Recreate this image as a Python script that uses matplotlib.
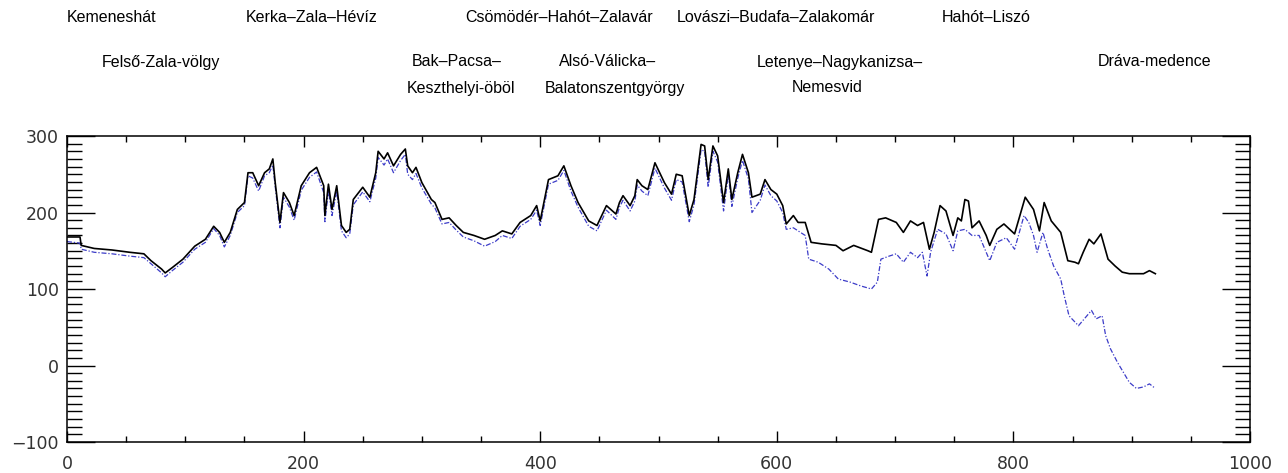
import matplotlib
matplotlib.use("Agg")
import matplotlib.pyplot as plt
from matplotlib.ticker import MultipleLocator

# Profile distance (x) and elevation-like values for the two series
black_x = [0, 11, 12, 23, 38, 53, 65, 71, 80, 83, 89, 98, 108, 117, 124, 129, 133, 138,
           144, 150, 153, 157, 162, 167, 171, 174, 176, 180, 183, 188, 192, 198, 205, 211,
           217, 218, 221, 224, 228, 232, 236, 239, 242, 250, 256, 261, 263, 268, 271, 276,
           282, 286, 288, 292, 295, 300, 308, 311, 317, 323, 329, 335, 344, 353, 362, 368,
           376, 383, 392, 397, 400, 407, 415, 420, 426, 432, 441, 448, 456, 464, 467,
           470, 476, 480, 482, 486, 491, 497, 505, 511, 515, 520, 526, 530, 536, 539, 542,
           546, 550, 555, 559, 562, 567, 571, 576, 579, 586, 590, 595, 600, 605, 608, 614,
           618, 624, 629, 638, 650, 656, 665, 677, 680, 686, 692, 701, 707, 713, 719, 724,
           729, 733, 738, 743, 749, 753, 756, 759, 762, 765, 771, 777, 780, 786, 792, 801,
           810, 817, 822, 826, 832, 840, 846, 852, 855, 859, 864, 868, 874, 880, 886, 892,
           898, 910, 915, 920]
black_y = [168, 168, 157, 153, 151, 148, 146, 137, 126, 121, 128, 139, 156, 165, 182, 174,
           161, 174, 204, 213, 252, 252, 235, 252, 257, 270, 239, 187, 226, 213, 196, 235,
           252, 259, 235, 196, 237, 204, 235, 183, 174, 178, 217, 233, 220, 252, 280, 270,
           278, 261, 276, 283, 261, 252, 259, 239, 217, 213, 191, 193, 183, 174, 170, 165,
           170, 176, 172, 187, 196, 209, 189, 243, 248, 261, 235, 213, 189, 183, 209, 198,
           213,
           222, 209, 222, 243, 235, 230, 265, 239, 224, 250, 248, 196, 217, 289, 287, 243,
           287, 274, 213, 257, 217, 252, 276, 252, 220, 224, 243, 230, 224, 209, 185, 196,
           187, 187, 161, 159, 157, 150, 157, 150, 148, 191, 193, 187, 174, 189, 183, 187,
           152, 174, 209, 202, 170, 193, 189, 217, 215, 180, 189, 170, 157, 178, 185, 172,
           220, 204, 176, 213, 189, 174, 137, 135, 133, 148, 165, 159, 172, 139, 130, 122,
           120, 120, 124, 120]

blue_x = [0, 11, 12, 23, 38, 53, 65, 71, 80, 83, 89, 98, 108, 117, 124, 129, 133, 138,
          144, 150, 153, 157, 162, 167, 171, 174, 176, 180, 183, 188, 192, 198, 205, 211,
          217, 218, 221, 224, 228, 232, 236, 239, 242, 250, 256, 261, 263, 268, 271, 276,
          282, 286, 288, 292, 295, 300, 308, 311, 317, 323, 329, 335, 344, 353, 362, 368,
          376, 383, 392, 397, 400, 407, 415, 420, 426, 432, 441, 448, 456, 464, 467,
          470, 476, 480, 482, 486, 491, 497, 505, 511, 515, 520, 526, 530, 536, 539, 542,
          546, 550, 555, 559, 562, 567, 571, 576, 579, 586, 590, 595, 600, 605, 608, 614,
          620, 624, 627, 635, 644, 652, 662, 671, 680, 685, 688, 695, 701, 707, 713, 719,
          723, 727, 730, 736, 743, 749, 753, 759, 765, 771, 780, 786, 794, 801, 809, 813,
          817, 820, 825, 829, 834, 840, 843, 847, 855, 861, 866, 870, 875, 878, 882, 888,
          893, 898, 904, 910, 915, 920]
blue_y = [162, 160, 152, 148, 146, 143, 141, 133, 121, 116, 124, 135, 152, 161, 179, 170,
          155, 170, 200, 209, 248, 245, 228, 248, 252, 262, 234, 180, 220, 207, 190, 229,
          246, 253, 226, 188, 229, 196, 228, 176, 167, 172, 210, 227, 214, 245, 272, 262,
          270, 252, 268, 276, 250, 243, 251, 232, 211, 206, 185, 187, 177, 168, 163, 156,
          162, 170, 166, 182, 191, 203, 183, 237, 242, 255, 228, 207, 182, 176, 203, 191,
          207,
          216, 202, 215, 236, 228, 222, 258, 232, 216, 243, 240, 188, 210, 282, 280, 233,
          280, 266, 202, 250, 208, 245, 268, 244, 200, 216, 236, 222, 215, 200, 178, 180,
          174, 170, 139, 135, 126, 113, 109, 104, 100, 109, 139, 143, 146, 135, 148, 141,
          148, 117, 148, 178, 172, 150, 176, 178, 170, 170, 137, 161, 167, 152, 196, 187,
          170, 148, 174, 152, 130, 113, 91, 65, 52, 63, 72, 61, 65, 39, 22, 4,
          -9, -22, -30, -28, -24, -30]

# Region names written above the profile (one entry per line of text)
region_names = ["Kemeneshát", "Kerka–Zala–Hévíz", "Csömödér–Hahót–Zalavár",
                "Lovászi–Budafa–Zalakomár", "Hahót–Liszó",
                "Felső-Zala-völgy", "Bak–Pacsa–", "Alsó-Válicka–",
                "Letenye–Nagykanizsa–", "Dráva-medence",
                "Keszthelyi-öböl", "Balatonszentgyörgy", "Nemesvid"]
# Horizontal centres (pixels) and rows of the names
name_px = [112, 312, 559, 776, 986, 161, 457, 608, 840, 1155, 461, 615, 827]
name_row = [0, 0, 0, 0, 0, 1, 1, 1, 1, 1, 2, 2, 2]
row_px = [17, 62, 88]

W, H = 1288, 473
fig = plt.figure(figsize=(W / 100, H / 100), dpi=100)
ax = fig.add_axes([67 / W, 1 - 442 / H, (1250 - 67) / W, (442 - 136) / H])

ax.plot(blue_x, blue_y, color="#3c3cc8", lw=0.9, linestyle=(0, (4, 1.5, 1, 1.5)))
ax.plot(black_x, black_y, color="black", lw=1.2)

ax.set_xlim(0, 1000)
ax.set_ylim(-100, 300)
ax.xaxis.set_major_locator(MultipleLocator(200))
ax.xaxis.set_minor_locator(MultipleLocator(50))
ax.yaxis.set_major_locator(MultipleLocator(100))
ax.yaxis.set_minor_locator(MultipleLocator(10))

ax.tick_params(which="both", direction="in", top=True, right=True,
               labelsize=12.5, labelcolor="#333333", width=1.0)
ax.tick_params(axis="x", which="major", length=8, pad=9)
ax.tick_params(axis="x", which="minor", length=4)
ax.tick_params(axis="y", which="major", length=20, pad=6)
ax.tick_params(axis="y", which="minor", length=11)
for sp in ax.spines.values():
    sp.set_linewidth(1.1)

for name, xp, r in zip(region_names, name_px, name_row):
    fig.text(xp / W, 1 - row_px[r] / H, name, ha="center", va="center",
             fontsize=11.5, family="Liberation Sans", color="black")

fig.savefig("out.png", dpi=100)
